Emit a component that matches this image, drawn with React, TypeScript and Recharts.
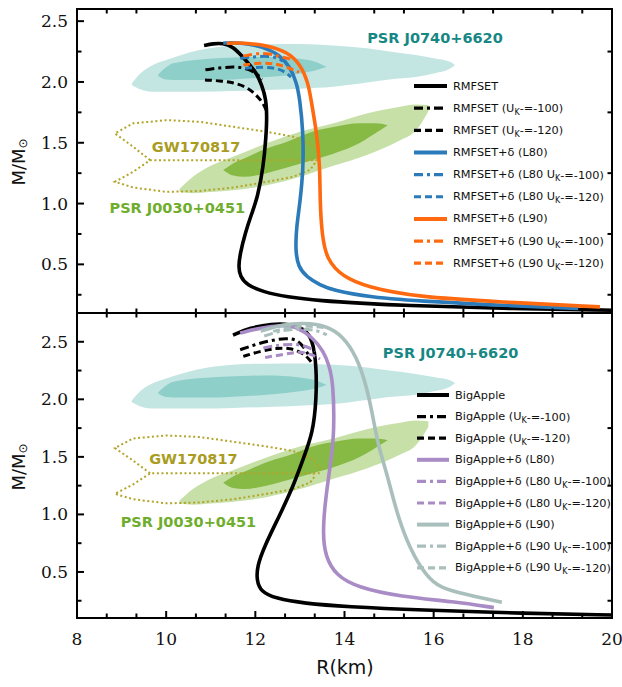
import React from 'react';
import { ComposedChart, Line, Area, XAxis, YAxis, ReferenceDot } from 'recharts';

// axis ticks
const X_MAJOR = [8, 10, 12, 14, 16, 18, 20];
const X_MINOR = [8.667, 9.333, 10.667, 11.333, 12.667, 13.333, 14.667, 15.333, 16.667, 17.333, 18.667, 19.333];
const Y_MAJOR = [0.5, 1.0, 1.5, 2.0, 2.5];
const Y_MINOR = [0.25, 0.75, 1.25, 1.75, 2.25];

// observational constraints: [R, Mlow, Mhigh]
const J0740_OUTER = [
  [9.23, 1.975, 1.99], [9.45, 1.935, 2.08], [9.65, 1.92, 2.13], [10.0, 1.92, 2.18], [10.75, 1.92, 2.263],
  [11.5, 1.925, 2.3], [12.25, 1.933, 2.31], [13.0, 1.945, 2.312], [13.75, 1.96, 2.3], [14.5, 1.995, 2.277],
  [15.0, 2.02, 2.25], [15.6, 2.04, 2.221], [16.0, 2.07, 2.195], [16.37, 2.11, 2.166], [16.48, 2.14, 2.14],
];
const J0740_INNER = [
  [9.82, 2.05, 2.06], [10.0, 2.02, 2.12], [10.16, 2.016, 2.153], [11.13, 2.016, 2.194], [11.9, 2.03, 2.205],
  [12.26, 2.04, 2.207], [13.0, 2.07, 2.19], [13.3, 2.09, 2.17], [13.6, 2.125, 2.125],
];
const J0030_OUTER = [
  [10.3, 1.095, 1.12], [10.6, 1.085, 1.22], [11.0, 1.095, 1.31], [11.5, 1.11, 1.384], [12.25, 1.15, 1.495],
  [13.0, 1.22, 1.59], [13.75, 1.31, 1.66], [14.5, 1.4, 1.741], [15.25, 1.52, 1.796], [15.6, 1.6, 1.815],
  [15.88, 1.76, 1.81],
];
const J0030_INNER = [
  [11.28, 1.275, 1.275], [11.5, 1.23, 1.33], [11.75, 1.22, 1.37], [12.25, 1.25, 1.453], [12.65, 1.29, 1.5],
  [13.4, 1.37, 1.604], [13.75, 1.41, 1.63], [14.35, 1.5, 1.66], [14.7, 1.58, 1.66], [14.97, 1.645, 1.645],
];
const GW170817 = [
  [9.64, 1.357], [9.26, 1.467], [8.85, 1.577], [9.26, 1.66], [10.01, 1.686], [10.76, 1.672], [11.51, 1.631],
  [12.26, 1.59], [12.85, 1.55], [13.3, 1.48], [13.45, 1.4], [13.42, 1.357], [9.64, 1.357], [9.26, 1.261],
  [8.85, 1.179], [9.26, 1.132], [10.01, 1.096], [10.76, 1.104], [11.51, 1.132], [12.26, 1.179], [12.85, 1.22],
  [13.23, 1.277], [13.33, 1.33], [13.3, 1.357],
];

// mass-radius curves: [R, M]
const RMFSET = [
  [10.85, 2.3], [11.05, 2.315], [11.27, 2.32], [11.5, 2.29], [11.72, 2.205], [11.9, 2.13], [12.03, 2.07],
  [12.15, 1.97], [12.24, 1.86], [12.26, 1.71], [12.24, 1.55], [12.18, 1.3], [12.05, 1.05], [11.92, 0.92],
  [11.77, 0.754], [11.66, 0.59], [11.62, 0.48], [11.66, 0.4], [11.81, 0.33], [12.18, 0.273], [12.7, 0.232],
  [13.45, 0.2], [14.5, 0.178], [15.25, 0.164], [17.5, 0.137], [20.0, 0.123],
];
const RMFSET_U100 = [[10.88, 2.1], [11.28, 2.12], [11.58, 2.125], [11.84, 2.11], [12.07, 2.057], [12.15, 2.02]];
const RMFSET_U120 = [[10.87, 2.016], [11.21, 2.01], [11.51, 1.994], [11.81, 1.96], [12.03, 1.89], [12.18, 1.824], [12.24, 1.77]];
const RMFSET_L80 = [
  [11.28, 2.32], [11.66, 2.325], [12.18, 2.29], [12.55, 2.22], [12.78, 2.125], [12.93, 1.99], [13.0, 1.85],
  [13.07, 1.6], [13.08, 1.3], [13.0, 1.0], [12.92, 0.8], [12.9, 0.616], [12.96, 0.479], [13.15, 0.397],
  [13.45, 0.33], [13.75, 0.287], [14.5, 0.232], [16.0, 0.191], [17.5, 0.164], [19.24, 0.137],
];
const RMFSET_L80_U100 = [[11.66, 2.194], [12.03, 2.21], [12.33, 2.213], [12.52, 2.194], [12.62, 2.17]];
const RMFSET_L80_U120 = [[11.77, 2.112], [12.18, 2.125], [12.48, 2.112], [12.67, 2.084], [12.8, 2.04]];
const RMFSET_L90 = [
  [11.36, 2.318], [11.73, 2.323], [12.26, 2.3], [12.7, 2.25], [13.0, 2.153], [13.19, 1.99], [13.25, 1.85],
  [13.38, 1.577], [13.45, 1.3], [13.45, 1.03], [13.49, 0.754], [13.6, 0.534], [13.97, 0.397], [14.5, 0.314],
  [15.62, 0.232], [17.49, 0.191], [19.73, 0.15],
];
const RMFSET_L90_U100 = [[11.73, 2.213], [12.03, 2.235], [12.33, 2.235], [12.55, 2.207], [12.78, 2.19]];
const RMFSET_L90_U120 = [[11.73, 2.139], [12.1, 2.158], [12.4, 2.153], [12.7, 2.125], [12.98, 2.08]];

const BIGAPPLE = [
  [11.5, 2.558], [11.88, 2.622], [12.37, 2.655], [12.77, 2.655], [13.09, 2.615], [13.29, 2.52], [13.37, 2.29],
  [13.37, 2.0], [13.29, 1.71], [13.09, 1.5], [12.85, 1.243], [12.53, 0.98], [12.2, 0.72], [12.04, 0.547],
  [12.03, 0.43], [12.12, 0.33], [12.45, 0.27], [13.09, 0.227], [14.05, 0.198], [15.66, 0.169], [18.07, 0.14],
  [20.0, 0.126],
];
const BIGAPPLE_U100 = [[11.66, 2.431], [12.03, 2.48], [12.33, 2.51], [12.7, 2.533], [12.93, 2.518], [13.08, 2.46], [13.2, 2.38]];
const BIGAPPLE_U120 = [[11.73, 2.373], [12.1, 2.417], [12.48, 2.446], [12.78, 2.446], [13.07, 2.403], [13.22, 2.344], [13.3, 2.3]];
const BIGAPPLE_L80 = [
  [11.66, 2.576], [12.12, 2.622], [12.61, 2.645], [12.9, 2.636], [13.3, 2.533], [13.53, 2.417], [13.65, 2.3],
  [13.75, 2.143], [13.77, 1.708], [13.7, 1.475], [13.57, 1.127], [13.51, 0.837], [13.57, 0.633], [13.81, 0.47],
  [14.29, 0.365], [15.26, 0.285], [16.46, 0.242], [17.35, 0.19],
];
const BIGAPPLE_L80_U100 = [[12.18, 2.446], [12.55, 2.475], [12.93, 2.48], [13.15, 2.46], [13.35, 2.42]];
const BIGAPPLE_L80_U120 = [[12.22, 2.364], [12.63, 2.39], [13.0, 2.417], [13.26, 2.39], [13.45, 2.35]];
const BIGAPPLE_L90 = [
  [12.12, 2.593], [12.61, 2.651], [13.09, 2.665], [13.6, 2.64], [13.97, 2.547], [14.27, 2.373], [14.5, 2.112],
  [14.65, 1.823], [14.76, 1.59], [14.95, 1.36], [15.17, 1.012], [15.47, 0.694], [15.84, 0.46], [16.14, 0.361],
  [16.74, 0.303], [17.53, 0.236],
];
const BIGAPPLE_L90_U100 = [[12.2, 2.55], [12.6, 2.6], [13.0, 2.615], [13.4, 2.6], [13.6, 2.56]];
const BIGAPPLE_L90_U120 = [[12.4, 2.59], [12.8, 2.63], [13.2, 2.64], [13.6, 2.62]];

const TOP_LABELS = [
  'RMFSET', 'RMFSET (U_K-=-100)', 'RMFSET (U_K-=-120)',
  'RMFSET+δ (L80)', 'RMFSET+δ (L80 U_K-=-100)', 'RMFSET+δ (L80 U_K-=-120)',
  'RMFSET+δ (L90)', 'RMFSET+δ (L90 U_K-=-100)', 'RMFSET+δ (L90 U_K-=-120)',
];
const BOTTOM_LABELS = [
  'BigApple', 'BigApple (U_K-=-100)', 'BigApple (U_K-=-120)',
  'BigApple+δ (L80)', 'BigApple+δ (L80 U_K-=-100)', 'BigApple+δ (L80 U_K-=-120)',
  'BigApple+δ (L90)', 'BigApple+δ (L90 U_K-=-100)', 'BigApple+δ (L90 U_K-=-120)',
];

const TOP_COLORS = ['#000000', '#2b7bba', '#ff6a10'];
const BOTTOM_COLORS = ['#000000', '#a98bc6', '#a9bfbb'];
const DASHES = [undefined, '9 4 3 4', '7 4'];

const pts = (a: number[][]) => a.map(([r, m]) => ({ r, m }));
const band = (a: number[][]) => a.map(([r, lo, hi]) => ({ r, m: [lo, hi] }));

const TOP_CURVES = [RMFSET, RMFSET_U100, RMFSET_U120, RMFSET_L80, RMFSET_L80_U100, RMFSET_L80_U120, RMFSET_L90, RMFSET_L90_U100, RMFSET_L90_U120];
const BOTTOM_CURVES = [BIGAPPLE, BIGAPPLE_U100, BIGAPPLE_U120, BIGAPPLE_L80, BIGAPPLE_L80_U100, BIGAPPLE_L80_U120, BIGAPPLE_L90, BIGAPPLE_L90_U100, BIGAPPLE_L90_U120];

const SERIF = '"DejaVu Serif", "Liberation Serif", serif';
const SANS = '"DejaVu Sans", sans-serif';
const PLOT_L = 77;
const PLOT_W = 535;
const Y_MIN = 0.1;
const TICK_LINE = { stroke: '#000', strokeWidth: 2 };

const CenterText = ({ viewBox, text, color }: any) => (
  <text
    x={viewBox.x + viewBox.width / 2}
    y={viewBox.y + viewBox.height / 2}
    textAnchor="middle"
    dominantBaseline="central"
    fontFamily={SANS}
    fontWeight="bold"
    fontSize={14.5}
    fill={color}
  >
    {text}
  </text>
);

const Panel = ({ curves, colors, yMax, height, xAxisHeight, top, labels, notes }: any) => (
  <ComposedChart width={622} height={height} margin={{ top, right: 10, bottom: 0, left: 0 }}>
    {/* major ticks (with labels) on left / bottom */}
    <XAxis
      xAxisId="b"
      type="number"
      dataKey="r"
      domain={[8, 20]}
      ticks={X_MAJOR}
      interval={0}
      height={xAxisHeight}
      axisLine={false}
      tickLine={TICK_LINE}
      tickSize={-7}
      tickMargin={22}
      allowDataOverflow
      tick={labels ? { fontFamily: SERIF, fontSize: 17, fill: '#111' } : false}
    />
    <YAxis
      yAxisId="l"
      type="number"
      domain={[Y_MIN, yMax]}
      ticks={Y_MAJOR}
      interval={0}
      width={PLOT_L}
      axisLine={false}
      tickLine={TICK_LINE}
      tickSize={-7}
      tickMargin={16}
      allowDataOverflow
      tick={{ fontFamily: SERIF, fontSize: 17, fill: '#111' }}
      tickFormatter={(v: number) => v.toFixed(1)}
    />
    {/* mirrored major ticks on top / right */}
    <XAxis xAxisId="t" orientation="top" type="number" dataKey="r" domain={[8, 20]} ticks={X_MAJOR} interval={0} height={0}
      axisLine={false} tickLine={TICK_LINE} tickSize={-7} tick={false} allowDataOverflow />
    <YAxis yAxisId="r" orientation="right" type="number" domain={[Y_MIN, yMax]} ticks={Y_MAJOR} interval={0} width={0}
      axisLine={false} tickLine={TICK_LINE} tickSize={-7} tick={false} allowDataOverflow />
    <Area xAxisId="b" yAxisId="l" data={band(J0740_OUTER)} dataKey="m" type="monotone" stroke="none" fill="#c4e6e3" fillOpacity={1} dot={false} activeDot={false} isAnimationActive={false} />
    <Area xAxisId="b" yAxisId="l" data={band(J0740_INNER)} dataKey="m" type="monotone" stroke="none" fill="#8ecfca" fillOpacity={1} dot={false} activeDot={false} isAnimationActive={false} />
    <Area xAxisId="b" yAxisId="l" data={band(J0030_OUTER)} dataKey="m" type="monotone" stroke="none" fill="#c7e0a7" fillOpacity={1} dot={false} activeDot={false} isAnimationActive={false} />
    <Area xAxisId="b" yAxisId="l" data={band(J0030_INNER)} dataKey="m" type="monotone" stroke="none" fill="#86ba45" fillOpacity={1} dot={false} activeDot={false} isAnimationActive={false} />
    <Line xAxisId="b" yAxisId="l" data={pts(GW170817)} dataKey="m" type="linear" stroke="#b3a42a" strokeWidth={2} strokeDasharray="2 2.6" dot={false} activeDot={false} isAnimationActive={false} />
    {curves.map((c: number[][], i: number) => (
      <Line
        key={i}
        xAxisId="b"
        yAxisId="l"
        data={pts(c)}
        dataKey="m"
        type="basis"
        stroke={colors[Math.floor(i / 3)]}
        strokeWidth={i % 3 === 0 ? 3.6 : 3}
        strokeDasharray={DASHES[i % 3]}
        dot={false}
        activeDot={false}
        isAnimationActive={false}
      />
    ))}
    {notes.map((n: any, i: number) => (
      <ReferenceDot key={i} xAxisId="b" yAxisId="l" x={n.r} y={n.m} r={1} fill="none" stroke="none" label={<CenterText text={n.text} color={n.color} />} />
    ))}
  </ComposedChart>
);

// minor inward ticks on all four sides, plus the panel frame
const Frame = ({ top, h, yMax }: any) => {
  const sx = (v: number) => PLOT_L + ((v - 8) / 12) * PLOT_W;
  const sy = (v: number) => top + ((yMax - v) / (yMax - Y_MIN)) * h;
  const L = 4.5;
  return (
    <g stroke="#000" strokeWidth={2}>
      {X_MINOR.map((v) => (
        <g key={`x${v}`}>
          <line x1={sx(v)} x2={sx(v)} y1={top + h} y2={top + h - L} />
          <line x1={sx(v)} x2={sx(v)} y1={top} y2={top + L} />
        </g>
      ))}
      {Y_MINOR.map((v) => (
        <g key={`y${v}`}>
          <line x1={PLOT_L} x2={PLOT_L + L} y1={sy(v)} y2={sy(v)} />
          <line x1={PLOT_L + PLOT_W} x2={PLOT_L + PLOT_W - L} y1={sy(v)} y2={sy(v)} />
        </g>
      ))}
      <rect x={PLOT_L} y={top} width={PLOT_W} height={h} fill="none" strokeWidth={2} />
    </g>
  );
};

const LegendBlock = ({ labels, colors, y0, step, x0, x1 }: any) => (
  <g>
    {labels.map((lab: string, i: number) => {
      const y = y0 + i * step;
      const parts = lab.split('_K');
      return (
        <g key={i}>
          <line x1={x0} x2={x1} y1={y} y2={y} stroke={colors[Math.floor(i / 3)]} strokeWidth={i % 3 === 0 ? 4 : 3.2} strokeDasharray={DASHES[i % 3]} />
          <text x={x1 + 6} y={y} dominantBaseline="central" fontFamily={SANS} fontSize={11.3} fill="#111">
            {parts[0]}
            {parts.length > 1 && (
              <>
                <tspan dy={3.5} fontSize={8}>K</tspan>
                <tspan dy={-3.5}>{parts[1]}</tspan>
              </>
            )}
          </text>
        </g>
      );
    })}
  </g>
);

const TOP_NOTES = [
  { text: 'PSR J0740+6620', r: 16.03, m: 2.361, color: '#178784' },
  { text: 'GW170817', r: 10.67, m: 1.467, color: '#a99c1f' },
  { text: 'PSR J0030+0451', r: 10.25, m: 0.96, color: '#6fae2c' },
];
const BOTTOM_NOTES = [
  { text: 'PSR J0740+6620', r: 16.38, m: 2.405, color: '#178784' },
  { text: 'GW170817', r: 10.61, m: 1.482, color: '#a99c1f' },
  { text: 'PSR J0030+0451', r: 10.5, m: 0.93, color: '#6fae2c' },
];

const MLabel = ({ cx, cy }: any) => (
  <text transform={`translate(${cx},${cy}) rotate(-90)`} textAnchor="middle" dominantBaseline="central" fontFamily={SANS} fontSize={18} fill="#111">
    M/M<tspan dy={5} fontSize={12}>⊙</tspan>
  </text>
);

export default function App() {
  return (
    <div style={{ position: 'absolute', left: 0, top: 0, width: 622, height: 687, background: '#fff' }}>
      <div style={{ position: 'absolute', left: 0, top: 0 }}>
        <Panel curves={TOP_CURVES} colors={TOP_COLORS} yMax={2.6} height={313} xAxisHeight={0} top={9} labels={false} notes={TOP_NOTES} />
      </div>
      <div style={{ position: 'absolute', left: 0, top: 313 }}>
        <Panel curves={BOTTOM_CURVES} colors={BOTTOM_COLORS} yMax={2.75} height={374} xAxisHeight={69} top={0} labels={true} notes={BOTTOM_NOTES} />
      </div>
      <svg width={622} height={687} style={{ position: 'absolute', left: 0, top: 0, pointerEvents: 'none' }}>
        <Frame top={9} h={304} yMax={2.6} />
        <Frame top={313} h={305} yMax={2.75} />
        <LegendBlock labels={TOP_LABELS} colors={TOP_COLORS} y0={86} step={22.15} x0={414} x1={447} />
        <LegendBlock labels={BOTTOM_LABELS} colors={BOTTOM_COLORS} y0={395} step={21.6} x0={417} x1={449} />
        <MLabel cx={18} cy={162} />
        <MLabel cx={18} cy={467} />
        <text x={345} y={667} textAnchor="middle" dominantBaseline="central" fontFamily={SANS} fontSize={19} fill="#111">
          R(km)
        </text>
      </svg>
    </div>
  );
}
